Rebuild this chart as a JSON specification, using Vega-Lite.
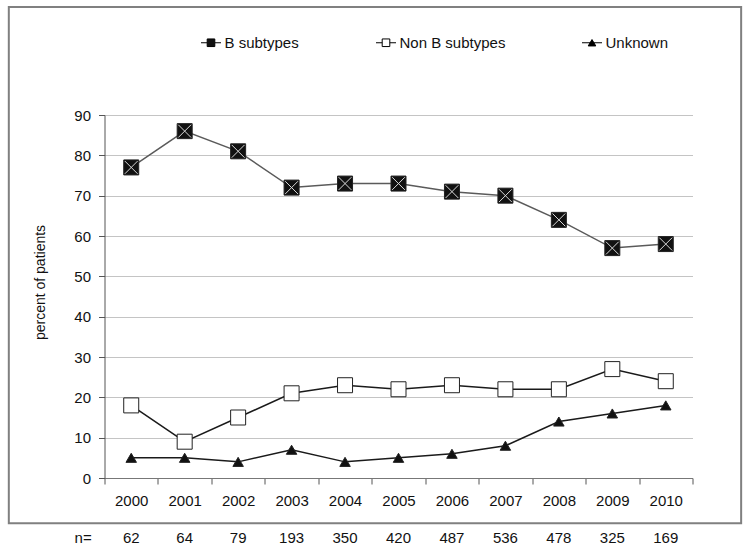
{
  "$schema": "https://vega.github.io/schema/vega-lite/v6.json",
  "width": 588,
  "height": 363,
  "padding": {"left": 7.5, "top": 5, "right": 5, "bottom": 5},
  "background": "white",
  "config": {"view": {"stroke": null}, "font": "Liberation Sans"},
  "datasets": {
    "series": [
      {"year": 2000, "series": "B subtypes", "value": 77},
      {"year": 2001, "series": "B subtypes", "value": 86},
      {"year": 2002, "series": "B subtypes", "value": 81},
      {"year": 2003, "series": "B subtypes", "value": 72},
      {"year": 2004, "series": "B subtypes", "value": 73},
      {"year": 2005, "series": "B subtypes", "value": 73},
      {"year": 2006, "series": "B subtypes", "value": 71},
      {"year": 2007, "series": "B subtypes", "value": 70},
      {"year": 2008, "series": "B subtypes", "value": 64},
      {"year": 2009, "series": "B subtypes", "value": 57},
      {"year": 2010, "series": "B subtypes", "value": 58},
      {"year": 2000, "series": "Non B subtypes", "value": 18},
      {"year": 2001, "series": "Non B subtypes", "value": 9},
      {"year": 2002, "series": "Non B subtypes", "value": 15},
      {"year": 2003, "series": "Non B subtypes", "value": 21},
      {"year": 2004, "series": "Non B subtypes", "value": 23},
      {"year": 2005, "series": "Non B subtypes", "value": 22},
      {"year": 2006, "series": "Non B subtypes", "value": 23},
      {"year": 2007, "series": "Non B subtypes", "value": 22},
      {"year": 2008, "series": "Non B subtypes", "value": 22},
      {"year": 2009, "series": "Non B subtypes", "value": 27},
      {"year": 2010, "series": "Non B subtypes", "value": 24},
      {"year": 2000, "series": "Unknown", "value": 5},
      {"year": 2001, "series": "Unknown", "value": 5},
      {"year": 2002, "series": "Unknown", "value": 4},
      {"year": 2003, "series": "Unknown", "value": 7},
      {"year": 2004, "series": "Unknown", "value": 4},
      {"year": 2005, "series": "Unknown", "value": 5},
      {"year": 2006, "series": "Unknown", "value": 6},
      {"year": 2007, "series": "Unknown", "value": 8},
      {"year": 2008, "series": "Unknown", "value": 14},
      {"year": 2009, "series": "Unknown", "value": 16},
      {"year": 2010, "series": "Unknown", "value": 18}
    ],
    "counts": [
      {"year": 2000, "n": 62},
      {"year": 2001, "n": 64},
      {"year": 2002, "n": 79},
      {"year": 2003, "n": 193},
      {"year": 2004, "n": 350},
      {"year": 2005, "n": 420},
      {"year": 2006, "n": 487},
      {"year": 2007, "n": 536},
      {"year": 2008, "n": 478},
      {"year": 2009, "n": 325},
      {"year": 2010, "n": 169}
    ]
  },
  "layer": [
    {
      "data": {"name": "series"},
      "mark": {"type": "line", "strokeWidth": 1.5},
      "encoding": {
        "x": {
          "field": "year", "type": "quantitative", "title": null,
          "scale": {"domain": [1999.5, 2010.5], "nice": false, "zero": false},
          "axis": {
            "values": [1999.5, 2000.5, 2001.5, 2002.5, 2003.5, 2004.5, 2005.5, 2006.5, 2007.5, 2008.5, 2009.5, 2010.5],
            "labelExpr": "datum.value < 2010 ? format(datum.value + 0.5, 'd') : ''",
            "labelOffset": 26.7,
            "labelFlush": false,
            "grid": false,
            "tickSize": 6,
            "tickColor": "#555555",
            "domainColor": "#777777",
            "labelColor": "#111111",
            "labelFontSize": 15,
            "labelPadding": 9
          }
        },
        "y": {
          "field": "value", "type": "quantitative", "title": "percent of  patients",
          "scale": {"domain": [0, 90], "nice": false, "zero": false},
          "axis": {
            "values": [0, 5, 10, 15, 20, 25, 30, 35, 40, 45, 50, 55, 60, 65, 70, 75, 80, 85, 90],
            "labelExpr": "datum.value % 10 === 0 ? datum.label : ''",
            "tickColor": {"condition": {"test": "datum.value % 10 !== 0", "value": "transparent"}, "value": "#555555"},
            "gridColor": "#c4c4c4",
            "gridWidth": 1,
            "tickSize": 6,
            "domainColor": "#555555",
            "labelColor": "#111111",
            "labelFontSize": 15,
            "labelPadding": 8,
            "labelOverlap": false,
            "titleFontSize": 14,
            "titleFontWeight": "normal",
            "titleColor": "#111111",
            "titleX": -64,
            "titleY": 167,
            "titleBaseline": "middle"
          }
        },
        "detail": {"field": "series"},
        "stroke": {"condition": {"test": "datum.series === 'B subtypes'", "value": "#5a5a5a"}, "value": "#1a1a1a"}
      }
    },
    {
      "data": {"name": "series"},
      "mark": {"type": "point", "filled": true, "opacity": 1, "stroke": "#222222", "strokeWidth": 1},
      "encoding": {
        "x": {"field": "year", "type": "quantitative"},
        "y": {"field": "value", "type": "quantitative"},
        "shape": {"condition": {"test": "datum.series === 'Unknown'", "value": "triangle-up"}, "value": "square"},
        "fill": {"condition": {"test": "datum.series === 'Non B subtypes'", "value": "#ffffff"}, "value": "#111111"},
        "size": {"condition": {"test": "datum.series === 'Unknown'", "value": 110}, "value": 225}
      }
    },
    {
      "data": {"name": "series"},
      "transform": [{"filter": "datum.series === 'B subtypes'"}],
      "mark": {"type": "point", "filled": false, "shape": "M-0.85,-0.85L0.85,0.85M0.85,-0.85L-0.85,0.85", "size": 225, "stroke": "#d8d8d8", "strokeWidth": 1, "opacity": 1},
      "encoding": {
        "x": {"field": "year", "type": "quantitative"},
        "y": {"field": "value", "type": "quantitative"}
      }
    },
    {
      "data": {"name": "series"},
      "mark": {"type": "point", "filled": true, "opacity": 0, "strokeWidth": 1},
      "encoding": {
        "x": {"field": "year", "type": "quantitative"},
        "y": {"field": "value", "type": "quantitative"},
        "shape": {
          "field": "series", "type": "nominal",
          "scale": {"domain": ["B subtypes", "Non B subtypes", "Unknown"], "range": ["M-1,0H-0.38M0.38,0H1M-0.38,-0.38H0.38V0.38H-0.38Z", "M-1,0H-0.38M0.38,0H1M-0.38,-0.38H0.38V0.38H-0.38Z", "M-1,0H1M-0.38,0.32L0,-0.32L0.38,0.32Z"]},
          "legend": {
            "title": null,
            "orient": "none",
            "direction": "horizontal",
            "legendX": 96,
            "legendY": -83,
            "columnPadding": 74,
            "symbolSize": 400,
            "symbolStrokeWidth": 1,
            "symbolOpacity": 1,
            "labelFontSize": 15,
            "labelColor": "#111111",
            "labelOffset": 3
          }
        },
        "fill": {
          "field": "series", "type": "nominal",
          "scale": {"domain": ["B subtypes", "Non B subtypes", "Unknown"], "range": ["#111111", "#ffffff", "#000000"]}
        },
        "stroke": {
          "field": "series", "type": "nominal",
          "scale": {"domain": ["B subtypes", "Non B subtypes", "Unknown"], "range": ["#000000", "#000000", "#000000"]}
        }
      }
    },
    {
      "data": {"name": "counts"},
      "mark": {"type": "text", "fontSize": 15, "color": "#111111", "baseline": "middle", "align": "center"},
      "encoding": {
        "x": {"field": "year", "type": "quantitative"},
        "y": {"datum": -14.9, "type": "quantitative"},
        "text": {"field": "n", "type": "nominal"}
      }
    },
    {
      "data": {"values": [{}]},
      "mark": {"type": "text", "text": "n=", "fontSize": 15, "color": "#111111", "baseline": "middle", "align": "center"},
      "encoding": {
        "x": {"datum": 1999.1, "type": "quantitative"},
        "y": {"datum": -14.9, "type": "quantitative"}
      }
    },
    {
      "data": {"values": [{}]},
      "mark": {"type": "rect", "fill": "transparent", "stroke": "#808080", "strokeWidth": 2},
      "encoding": {
        "x": {"datum": 1997.71, "type": "quantitative"},
        "x2": {"datum": 2011.41},
        "y": {"datum": 116.8, "type": "quantitative"},
        "y2": {"datum": -11.2}
      }
    }
  ]
}
